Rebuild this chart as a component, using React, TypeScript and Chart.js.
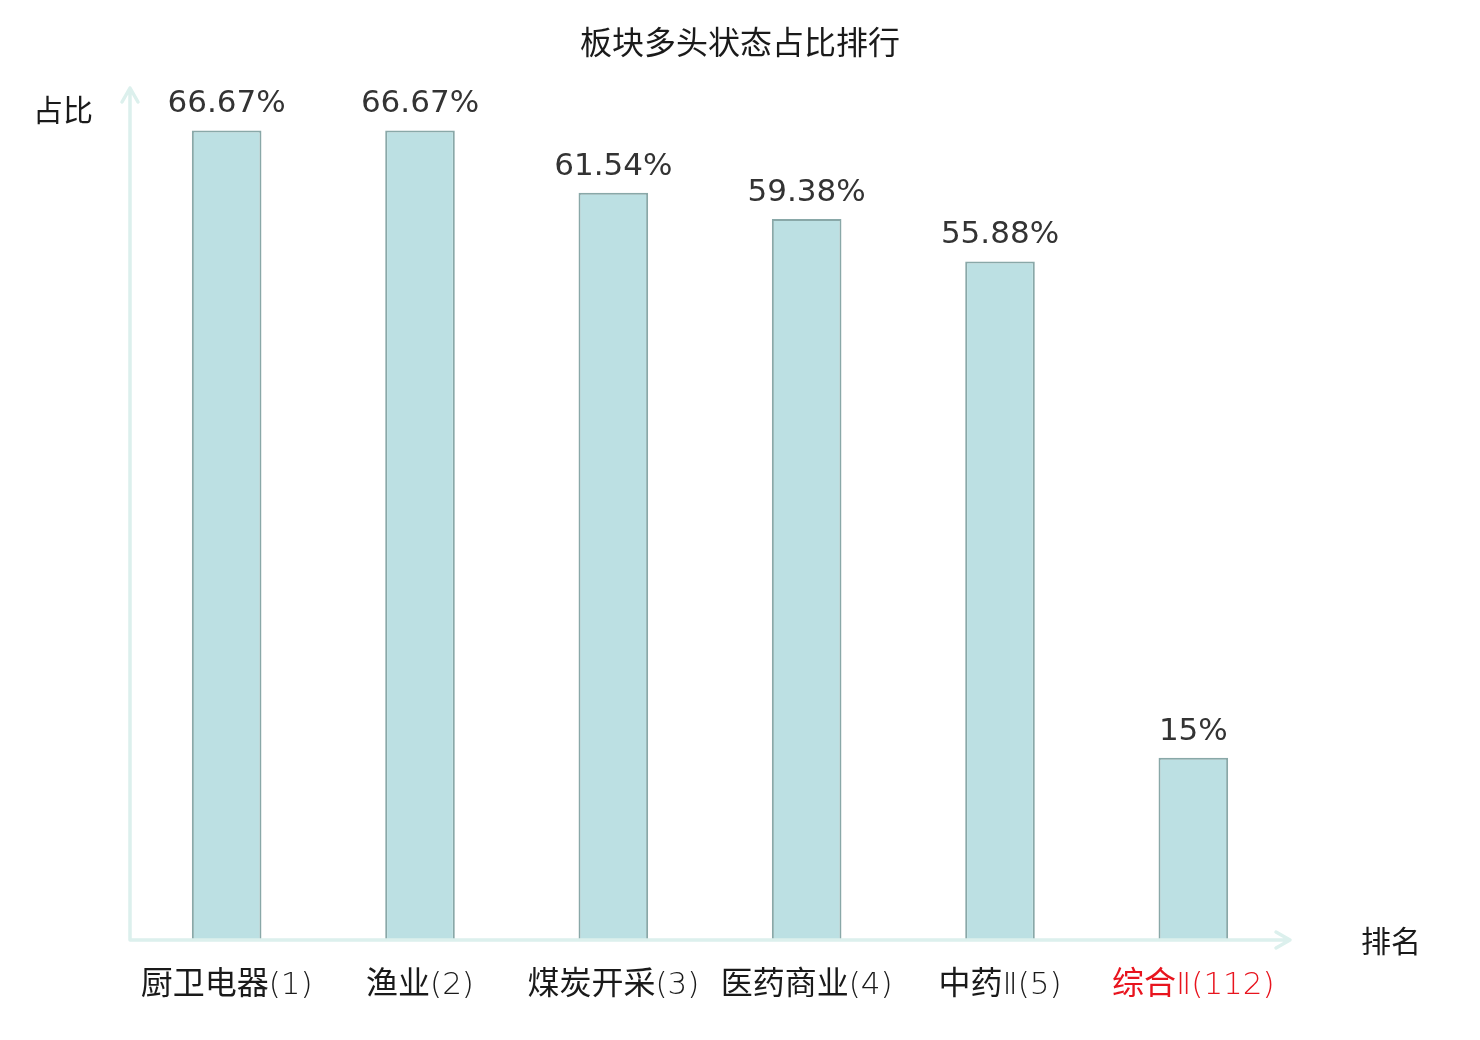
import { useEffect, useRef } from "react";
import { Chart, registerables } from "chart.js";

Chart.register(...registerables);

const categories = ["厨卫电器(1)", "渔业(2)", "煤炭开采(3)", "医药商业(4)", "中药Ⅱ(5)", "综合Ⅱ(112)"];
const ratios = [66.67, 66.67, 61.54, 59.38, 55.88, 15];
const valueLabels = ["66.67%", "66.67%", "61.54%", "59.38%", "55.88%", "15%"];
const labelColors = ["#1a1a1a", "#1a1a1a", "#1a1a1a", "#1a1a1a", "#1a1a1a", "#e8141e"];

const TITLE = "板块多头状态占比排行";
const Y_NAME = "占比";
const X_NAME = "排名";

const CJK_FONT = '"Noto Sans CJK SC", "DejaVu Sans", sans-serif';
const NUM_FONT = '"DejaVu Sans", "Noto Sans CJK SC", sans-serif';
const AXIS_COLOR = "#dcf0ed";

const CJK_RUN = /[\u4e00-\u9fff]+|[^\u4e00-\u9fff]+/g;

// category label: Han characters in regular weight, the rest in a light weight
function drawMixed(ctx: CanvasRenderingContext2D, text: string, cx: number, baseline: number) {
  const runs = text.match(CJK_RUN) || [];
  const fonts = runs.map((r) => (/[\u4e00-\u9fff]/.test(r) ? `32px ${CJK_FONT}` : `200 31px ${NUM_FONT}`));
  const widths = runs.map((r, i) => {
    ctx.font = fonts[i];
    return ctx.measureText(r).width;
  });
  let x = cx - widths.reduce((a, b) => a + b, 0) / 2;
  ctx.textAlign = "left";
  ctx.textBaseline = "alphabetic";
  runs.forEach((r, i) => {
    ctx.font = fonts[i];
    ctx.fillText(r, x, baseline);
    x += widths[i];
  });
}

// axes with arrows, value labels, category labels and names
const decorPlugin = {
  id: "decor",
  afterDatasetsDraw(chart: Chart) {
    const { ctx, chartArea } = chart;
    const xScale = chart.scales.x;
    const { left, right, top, bottom } = chartArea;

    ctx.save();
    ctx.strokeStyle = AXIS_COLOR;
    ctx.lineWidth = 3.5;
    ctx.lineCap = "round";
    ctx.lineJoin = "round";
    ctx.beginPath();
    ctx.moveTo(left, bottom);
    ctx.lineTo(left, top - 2);
    ctx.moveTo(left - 8, top + 12);
    ctx.lineTo(left, top - 2);
    ctx.lineTo(left + 8, top + 12);
    ctx.moveTo(left, bottom);
    ctx.lineTo(right, bottom);
    ctx.moveTo(right - 14, bottom - 8);
    ctx.lineTo(right, bottom);
    ctx.lineTo(right - 14, bottom + 8);
    ctx.stroke();

    const meta = chart.getDatasetMeta(0);
    ctx.textAlign = "center";
    ctx.textBaseline = "alphabetic";
    ctx.font = `31px ${NUM_FONT}`;
    ctx.fillStyle = "#333333";
    meta.data.forEach((bar, i) => {
      ctx.fillText(valueLabels[i], bar.x, bar.y - 18);
    });

    categories.forEach((c, i) => {
      ctx.fillStyle = labelColors[i];
      drawMixed(ctx, c, xScale.getPixelForValue(i), bottom + 54);
    });

    ctx.textAlign = "center";
    ctx.textBaseline = "middle";
    ctx.font = `32px ${CJK_FONT}`;
    ctx.fillStyle = "#1a1a1a";
    ctx.fillText(TITLE, chart.width / 2, 42);
    ctx.font = `30px ${CJK_FONT}`;
    ctx.fillText(Y_NAME, 63, 110);
    ctx.fillText(X_NAME, right + 101, bottom + 1);
    ctx.restore();
  },
};

export default function App() {
  const canvasRef = useRef<HTMLCanvasElement | null>(null);
  const chartRef = useRef<Chart | null>(null);

  useEffect(() => {
    document.body.style.margin = "0";
    if (!canvasRef.current) return;
    if (chartRef.current) chartRef.current.destroy();

    chartRef.current = new Chart(canvasRef.current, {
      type: "bar",
      data: {
        labels: categories,
        datasets: [
          {
            data: ratios,
            backgroundColor: "#bce0e3",
            borderColor: "#89a8a8",
            borderWidth: 2,
            categoryPercentage: 1,
            barPercentage: 0.36,
          },
        ],
      },
      options: {
        responsive: false,
        animation: false,
        layout: { padding: { left: 130, right: 190, top: 90, bottom: 100 } },
        scales: {
          x: { display: false },
          y: { display: false, min: 0, max: 70 },
        },
        plugins: {
          legend: { display: false },
          tooltip: { enabled: false },
        },
      },
      plugins: [decorPlugin],
    });

    return () => {
      if (chartRef.current) {
        chartRef.current.destroy();
        chartRef.current = null;
      }
    };
  }, []);

  return (
    <div style={{ width: 1480, height: 1040, background: "#ffffff" }}>
      <canvas ref={canvasRef} width={1480} height={1040} />
    </div>
  );
}
